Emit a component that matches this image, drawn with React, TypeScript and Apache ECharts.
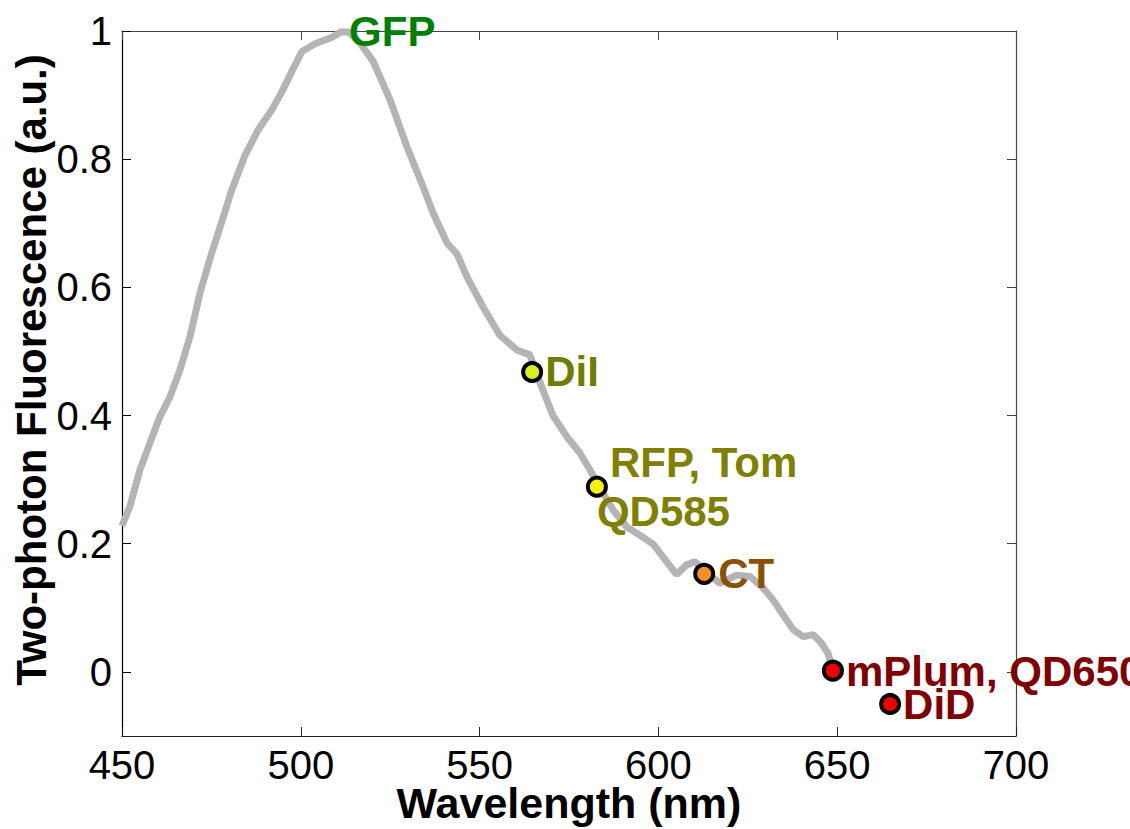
import React, { useEffect, useRef } from "react";
import * as echarts from "echarts";

// Emission spectrum trace (wavelength in nm, normalised two-photon fluorescence)
const waveNm = [
  450, 452.2, 455, 457.8, 460.6, 463.4, 466.2, 469, 471.8, 474.6, 477.6, 480.7,
  484.4, 488.1, 491.9, 494.7, 497.5, 500.3, 504, 508.6, 511.4, 513.5, 516.6,
  520.2, 525, 529.7, 534.2, 537, 540.9, 543.7, 546.5, 551, 555.7, 560.5, 564,
  566.9, 570.5, 574.4, 578, 580.9, 582.8, 587.3, 591.2, 594.9, 598.6, 602.3,
  605.1, 607.9, 610.2, 613, 617.2, 621.9, 625.6, 629.3, 632.1, 635, 637.7,
  640.5, 643.3, 645.6, 647.5, 648.3,
];
const fluor = [
  0.228, 0.258, 0.315, 0.357, 0.398, 0.429, 0.471, 0.523, 0.591, 0.645, 0.697,
  0.752, 0.806, 0.846, 0.877, 0.905, 0.937, 0.968, 0.98, 0.99, 0.999, 0.998,
  0.981, 0.953, 0.892, 0.819, 0.757, 0.716, 0.669, 0.652, 0.616, 0.569, 0.525,
  0.502, 0.495, 0.451, 0.4, 0.367, 0.342, 0.315, 0.295, 0.253, 0.226, 0.213,
  0.199, 0.172, 0.152, 0.167, 0.172, 0.158, 0.138, 0.151, 0.149, 0.131, 0.112,
  0.088, 0.066, 0.055, 0.058, 0.045, 0.028, 0.012,
];

// Dye markers
const dyeX = [564.7, 582.8, 612.8, 648.8, 664.8];
const dyeY = [0.468, 0.289, 0.153, 0.002, -0.05];
const dyeFill = ["#d7f01e", "#f5f010", "#f39020", "#f00000", "#f00000"];

// Text annotations: label, anchor x, anchor y
const noteText = ["GFP", "DiI", "RFP, Tom", "QD585", "CT", "mPlum, QD650", "DiD"];
const noteX = [513.5, 564.7, 582.8, 582.8, 612.8, 648.8, 664.8];
const noteY = [1.0, 0.468, 0.289, 0.289, 0.153, 0.002, -0.05];
const noteColor = ["#008000", "#6f7d00", "#808000", "#808000", "#8a5200", "#800000", "#800000"];
const noteOffset = [
  [0, 0], [13, 0], [13, -24], [0, 25], [14, 0], [13, 1], [13, 1],
];

const xTicks = [450, 500, 550, 600, 650, 700];
const yTicks = [0, 0.2, 0.4, 0.6, 0.8, 1];

const FONT = "'Liberation Sans', Arial, Helvetica, sans-serif";

export default function App() {
  const ref = useRef<HTMLDivElement>(null);
  useEffect(() => {
    if (!ref.current) return;
    const chart = echarts.init(ref.current, null, { renderer: "svg" });
    const axisCommon = {
      type: "value" as const,
      splitLine: { show: false },
    };
    const titles = [
      {
        type: "text",
        x: 569,
        y: 803,
        style: {
          text: "Wavelength (nm)",
          font: `bold 43px ${FONT}`,
          fill: "#000",
          textAlign: "center",
          textVerticalAlign: "middle",
        },
      },
      {
        type: "text",
        x: 31,
        y: 370,
        rotation: Math.PI / 2,
        style: {
          text: "Two-photon Fluorescence (a.u.)",
          font: `bold 42px ${FONT}`,
          fill: "#000",
          textAlign: "center",
          textVerticalAlign: "middle",
        },
      },
    ];
    chart.setOption({
      animation: false,
      backgroundColor: "#ffffff",
      grid: { left: 122, right: 114, top: 31, bottom: 93, containLabel: false },
      xAxis: [
        {
          ...axisCommon,
          min: 450,
          max: 700,
          interval: 50,
          position: "bottom",
          axisLine: { onZero: false, lineStyle: { color: "#222", width: 1.2 } },
          axisTick: { inside: true, length: 9, lineStyle: { color: "#222" } },
          axisLabel: {
            fontSize: 40,
            fontFamily: FONT,
            color: "#000",
            margin: 9,
            customValues: xTicks,
          },
        },
        {
          ...axisCommon,
          min: 450,
          max: 700,
          interval: 50,
          position: "top",
          axisLine: { show: true, onZero: false, lineStyle: { color: "#444", width: 1.2 } },
          axisTick: { show: true, inside: true, length: 9, lineStyle: { color: "#444" } },
          axisLabel: { show: false },
        },
      ],
      yAxis: [
        {
          ...axisCommon,
          min: -0.1,
          max: 1,
          position: "left",
          axisLine: { show: true, onZero: false, lineStyle: { color: "#000", width: 1.2 } },
          axisTick: {
            show: true,
            inside: true,
            length: 9,
            customValues: yTicks,
            lineStyle: { color: "#000" },
          },
          axisLabel: {
            fontSize: 40,
            fontFamily: FONT,
            color: "#000",
            margin: 10,
            customValues: yTicks,
            formatter: (v: number) => String(Math.round(v * 10) / 10),
          },
        },
        {
          ...axisCommon,
          min: -0.1,
          max: 1,
          position: "right",
          axisLine: { show: true, onZero: false, lineStyle: { color: "#444", width: 1.2 } },
          axisTick: {
            show: true,
            inside: true,
            length: 9,
            customValues: yTicks,
            lineStyle: { color: "#444" },
          },
          axisLabel: { show: false },
        },
      ],
      graphic: titles,
      series: [
        {
          type: "line",
          data: waveNm.map((w, i) => [w, fluor[i]]),
          showSymbol: false,
          lineStyle: { color: "#b4b4b4", width: 7 },
          z: 2,
        },
        {
          type: "scatter",
          data: dyeX.map((x, i) => ({
            value: [x, dyeY[i]],
            itemStyle: { color: dyeFill[i], opacity: 1 },
          })),
          symbol: "circle",
          symbolSize: 18,
          itemStyle: { borderColor: "#000", borderWidth: 4, opacity: 1 },
          z: 4,
          clip: false,
        },
      ],
    });

    // Place annotations through the chart's own coordinate conversion
    const notes = noteText.map((t, i) => {
      const p = chart.convertToPixel({ gridIndex: 0 }, [noteX[i], noteY[i]]) as number[];
      return {
        type: "text",
        x: p[0] + noteOffset[i][0],
        y: p[1] + noteOffset[i][1],
        z: 10,
        style: {
          text: t,
          font: `bold 42px ${FONT}`,
          fill: noteColor[i],
          textAlign: "left",
          textVerticalAlign: "middle",
        },
      };
    });
    chart.setOption({ graphic: [...titles, ...notes] });
    return () => chart.dispose();
  }, []);
  return (
    <div
      ref={ref}
      style={{ position: "fixed", left: 0, top: 0, width: 1130, height: 829, background: "#fff" }}
    />
  );
}
